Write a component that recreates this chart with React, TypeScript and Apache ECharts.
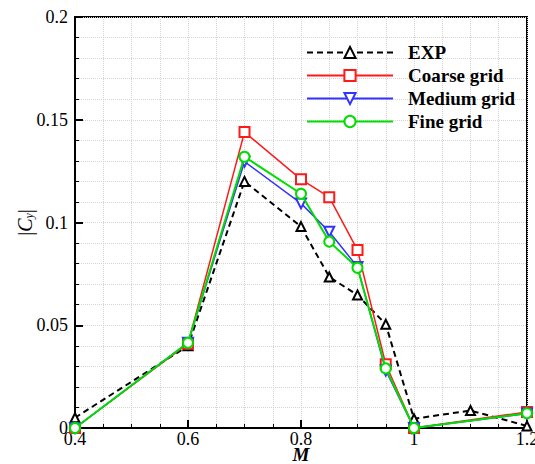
import React, { useEffect, useRef } from "react";
import * as echarts from "echarts";

const machExp = [0.4, 0.6, 0.7, 0.8, 0.85, 0.9, 0.95, 1.0, 1.1, 1.2];
const cyExp = [0.005, 0.04, 0.12, 0.098, 0.0735, 0.0647, 0.0505, 0.0045, 0.0085, 0.001];

const machCfd = [0.4, 0.6, 0.7, 0.8, 0.85, 0.9, 0.95, 1.0, 1.2];
const cyCoarse = [0.0, 0.041, 0.144, 0.121, 0.1123, 0.0866, 0.031, 0.0, 0.0078];
const cyMedium = [0.0, 0.0415, 0.1296, 0.1093, 0.0955, 0.0784, 0.028, 0.0, 0.007];
const cyFine = [0.0, 0.0415, 0.132, 0.114, 0.0907, 0.078, 0.029, 0.0, 0.0072];

const seriesNames = ["EXP", "Coarse grid", "Medium grid", "Fine grid"];

const zip = (xs: number[], ys: number[]) => xs.map((x, i) => [x, ys[i]]);

export default function App() {
  const ref = useRef<HTMLDivElement>(null);
  useEffect(() => {
    if (!ref.current) return;
    const chart = echarts.init(ref.current, undefined, { renderer: "svg" });
    const font = "Liberation Serif";
    const gridLine = { show: true, lineStyle: { color: "#d4d4d4", type: "dotted" as const, width: 1 } };
    chart.setOption({
      animation: false,
      backgroundColor: "#fff",
      grid: {
        left: 75,
        right: 8,
        top: 17,
        bottom: 36,
        outerBoundsMode: "none",
        containLabel: false,
        show: true,
        borderColor: "#000",
        borderWidth: 2,
        backgroundColor: "transparent",
      },
      legend: {
        orient: "vertical",
        left: 301,
        top: 38,
        itemWidth: 86,
        itemHeight: 14,
        itemGap: 4,
        data: seriesNames,
        textStyle: {
          fontFamily: font,
          fontWeight: "bold",
          fontSize: 19,
          color: "#000",
          padding: [0, 0, 0, 10],
        },
      },
      xAxis: {
        type: "value",
        min: 0.4,
        max: 1.2,
        interval: 0.2,
        name: "M",
        nameLocation: "middle",
        nameGap: 19,
        nameMoveOverlap: false,
        nameTextStyle: {
          fontFamily: font,
          fontStyle: "italic",
          fontWeight: "bold",
          fontSize: 19,
          lineHeight: 14,
          color: "#000",
        },
        axisLine: { show: true, onZero: false, lineStyle: { color: "#000", width: 2 } },
        axisTick: { show: true, inside: true, length: 8, lineStyle: { color: "#000", width: 2 } },
        minorTick: { show: true, splitNumber: 4, length: 4, lineStyle: { color: "#000", width: 1 } },
        axisLabel: {
          fontFamily: font,
          fontSize: 18,
          lineHeight: 14,
          color: "#000",
          margin: 4,
          formatter: (v: number) => String(Math.round(v * 100) / 100),
        },
        splitLine: gridLine,
        minorSplitLine: gridLine,
      },
      yAxis: {
        type: "value",
        min: 0,
        max: 0.2,
        interval: 0.05,
        name: "{b||}{c|C}{s|y}{b||}",
        nameLocation: "middle",
        nameGap: 40,
        nameMoveOverlap: false,
        nameRotate: 90,
        nameTextStyle: {
          fontFamily: font,
          fontSize: 20,
          color: "#000",
          rich: {
            b: { fontFamily: font, fontSize: 20, color: "#000" },
            c: { fontFamily: font, fontSize: 20, fontStyle: "italic", color: "#000" },
            s: { fontFamily: font, fontSize: 12, fontStyle: "italic", color: "#000", verticalAlign: "bottom", padding: [8, 0, 0, 0] },
          },
        },
        axisLine: { show: true, onZero: false, lineStyle: { color: "#000", width: 2 } },
        axisTick: { show: true, inside: true, length: 8, lineStyle: { color: "#000", width: 2 } },
        minorTick: { show: true, splitNumber: 5, length: 4, lineStyle: { color: "#000", width: 1 } },
        axisLabel: {
          fontFamily: font,
          fontSize: 18,
          color: "#000",
          margin: 7,
          formatter: (v: number) => String(Math.round(v * 100) / 100),
        },
        splitLine: gridLine,
        minorSplitLine: gridLine,
      },
      series: [
        {
          name: seriesNames[0],
          type: "line",
          data: zip(machExp, cyExp),
          symbol: "emptyTriangle",
          symbolSize: 9,
          color: "#000",
          lineStyle: { color: "#000", width: 2, type: [6, 4] },
          itemStyle: { color: "#000", borderWidth: 1.2 },
          z: 2,
        },
        {
          name: seriesNames[1],
          type: "line",
          data: zip(machCfd, cyCoarse),
          symbol: "emptyRect",
          symbolSize: 10,
          color: "#ff1a1a",
          lineStyle: { color: "#ff1a1a", width: 1.5 },
          itemStyle: { color: "#ff1a1a", borderWidth: 1.2 },
          z: 3,
        },
        {
          name: seriesNames[2],
          type: "line",
          data: zip(machCfd, cyMedium),
          symbol: "emptyTriangle",
          symbolRotate: 180,
          symbolSize: 10,
          color: "#3333ff",
          lineStyle: { color: "#3333ff", width: 1.5 },
          itemStyle: { color: "#3333ff", borderWidth: 1.2 },
          z: 4,
        },
        {
          name: seriesNames[3],
          type: "line",
          data: zip(machCfd, cyFine),
          symbol: "emptyCircle",
          symbolSize: 10,
          color: "#00dd00",
          lineStyle: { color: "#00dd00", width: 2 },
          itemStyle: { color: "#00dd00", borderWidth: 1.2 },
          z: 5,
        },
      ],
    });
    return () => chart.dispose();
  }, []);
  return <div ref={ref} style={{ width: 535, height: 464, position: "absolute", left: 0, top: 0 }} />;
}
